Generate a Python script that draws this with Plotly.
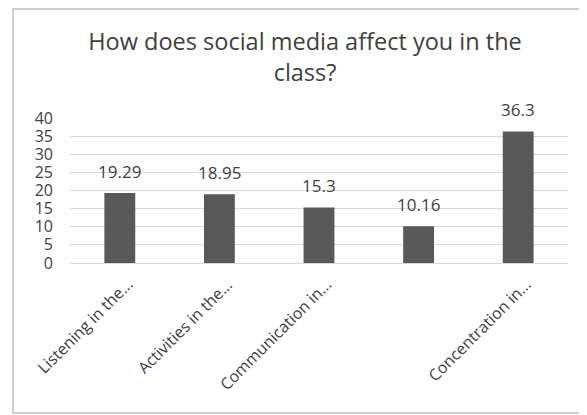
import plotly.graph_objects as go

# Survey answers: how social media affects students in class
categories = ["Listening in the...", "Activities in the...", "Communication in...", " ", "Concentration in..."]
values = [19.29, 18.95, 15.3, 10.16, 36.3]
value_labels = ["19.29", "18.95", "15.3", "10.16", "36.3"]
y_ticks = [0, 5, 10, 15, 20, 25, 30, 35, 40]

FONT = "Open Sans"
TEXT_COLOR = "#404040"
GRID = "#d9d9d9"

fig = go.Figure(go.Bar(
    x=categories,
    y=values,
    cliponaxis=False,
    marker=dict(color="#595959", line=dict(width=0)),
    width=0.31,
))

fig.update_layout(
    title=dict(
        text="How does social media affect you in the<br>class?",
        x=0.513,
        xanchor="center",
        y=0.896,
        yanchor="top",
        font=dict(size=23.5, color=TEXT_COLOR, family=FONT),
    ),
    width=579,
    height=407,
    plot_bgcolor="white",
    paper_bgcolor="white",
    margin=dict(l=62, r=19, t=110, b=152, autoexpand=False),
    showlegend=False,
    xaxis=dict(
        range=[-0.5, len(categories) - 0.5],
        showticklabels=False,
        showgrid=False,
        showline=True,
        linecolor=GRID,
        ticks="",
        automargin=False,
    ),
    yaxis=dict(
        range=[0, 40],
        tickvals=y_ticks,
        tickfont=dict(size=16, color=TEXT_COLOR, family=FONT),
        showgrid=True,
        gridcolor=GRID,
        zeroline=False,
        ticks="",
        ticklabelstandoff=16,
        automargin=False,
    ),
)

# value labels above the bars
for cat, val, lab in zip(categories, values, value_labels):
    fig.add_annotation(
        x=cat, y=val, text=lab, showarrow=False,
        yanchor="middle", yshift=22,
        font=dict(size=17, color=TEXT_COLOR, family=FONT),
    )

# slanted category labels, ending just right of each bar
for cat in categories:
    if not cat.strip():
        continue
    fig.add_annotation(
        x=cat, y=0, text=cat, showarrow=False, textangle=-45,
        xanchor="right", yanchor="top", xshift=20, yshift=-8,
        font=dict(size=16, color=TEXT_COLOR, family=FONT),
    )

# Light frame around the whole chart, like the spreadsheet chart area
fig.add_shape(
    type="rect",
    xref="paper", yref="paper",
    x0=-0.1145, x1=1.032, y0=-1.0345, y1=1.752,
    line=dict(color="#bfbfbf", width=1.5),
    layer="above",
)

fig.write_html("out.html")
